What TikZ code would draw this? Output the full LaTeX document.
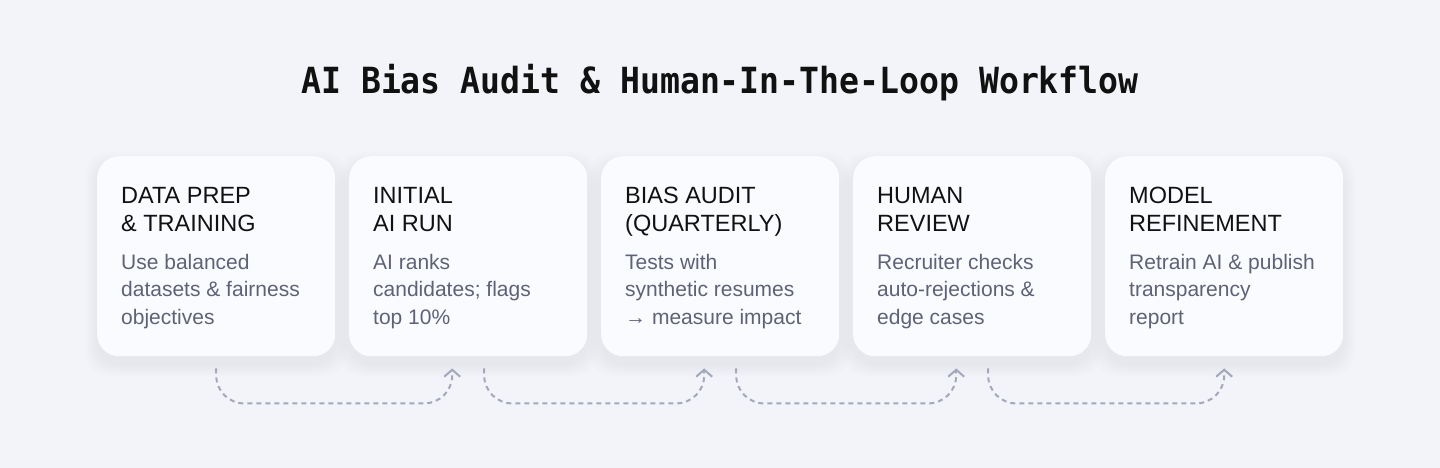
\documentclass[tikz,border=0pt]{standalone}
\usepackage{fontspec}
\setmainfont{Liberation Sans}
\newfontfamily\titlefont[FakeStretch=0.92]{DejaVu Sans Mono}
\usetikzlibrary{arrows.meta,calc}
\definecolor{bg}{HTML}{F3F4F9}
\definecolor{cardfill}{HTML}{FAFBFE}
\definecolor{headc}{HTML}{111111}
\definecolor{bodyc}{HTML}{5F6277}
\definecolor{connc}{HTML}{A3A8BB}
\definecolor{shadc}{HTML}{B4BBD4}
\begin{document}
\begin{tikzpicture}[x=1pt,y=-1pt,
  card/.style={rounded corners=22pt, fill=cardfill, minimum width=238pt, minimum height=200pt, inner sep=0pt, anchor=north west},
  head/.style={anchor=base west, inner sep=0pt, align=left, text=headc, font=\fontsize{23.5}{28}\selectfont},
  body/.style={anchor=base west, inner sep=0pt, align=left, text=bodyc, font=\fontsize{21}{27.5}\selectfont},
  conn/.style={draw=connc, line width=2pt, dash pattern=on 5pt off 4pt, rounded corners=28pt, -{Straight Barb[length=7pt,width=16pt,line width=2pt]}},
  ttl/.style={anchor=base, inner sep=0pt, text=headc, font=\titlefont\bfseries\fontsize{36}{42}\selectfont}
]
\fill[bg] (0,0) rectangle (1440,468);
\useasboundingbox (0,0) rectangle (1440,468);
% shadows
\foreach \x in {97,349,601,853,1105}{
  \foreach \i in {1,...,12}{
    \fill[shadc, opacity=0.016, rounded corners=24pt] (\x-\i, 156+8-\i) rectangle ++(238+2*\i, 200+2*\i);
  }
}
\node[ttl] (title) at (720,94) {AI Bias Audit \& Human-In-The-Loop Workflow};
% cards
\node[card] (c1) at (97,156) {};
\node[card] (c2) at (349,156) {};
\node[card] (c3) at (601,156) {};
\node[card] (c4) at (853,156) {};
\node[card] (c5) at (1105,156) {};
% headers (anchor at last line baseline)
\node[head] (h1) at (121,231) {DATA PREP\\\& TRAINING};
\node[head] (h2) at (373,231) {INITIAL\\AI RUN};
\node[head] (h3) at (625,231) {BIAS AUDIT\\(QUARTERLY)};
\node[head] (h4) at (877,231) {HUMAN\\REVIEW};
\node[head] (h5) at (1129,231) {MODEL\\REFINEMENT};
% bodies
\node[body] (b1) at (121,324) {Use balanced\\datasets \& fairness\\objectives};
\node[body] (b2) at (373,324) {AI ranks\\candidates; flags\\top 10\%};
\node[body] (b3) at (625,324) {Tests with\\synthetic resumes\\→ measure impact};
\node[body] (b4) at (877,324) {Recruiter checks\\auto-rejections \&\\edge cases};
\node[body] (b5) at (1129,324) {Retrain AI \& publish\\transparency\\report};
% connectors
\coordinate (s1) at ($(c1.south)+(0,12)$);
\coordinate (e1) at ($(c2.south)+(-16,12)$);
\coordinate (s2) at ($(c2.south)+(16,12)$);
\coordinate (e2) at ($(c3.south)+(-16,12)$);
\coordinate (s3) at ($(c3.south)+(16,12)$);
\coordinate (e3) at ($(c4.south)+(-16,12)$);
\coordinate (s4) at ($(c4.south)+(16,12)$);
\coordinate (e4) at ($(c5.south)+(0,12)$);
\draw[conn] (s1) |- ($(e1)+(0,35)$) -- (e1);
\draw[conn] (s2) |- ($(e2)+(0,35)$) -- (e2);
\draw[conn] (s3) |- ($(e3)+(0,35)$) -- (e3);
\draw[conn] (s4) |- ($(e4)+(0,35)$) -- (e4);
\end{tikzpicture}
\end{document}
